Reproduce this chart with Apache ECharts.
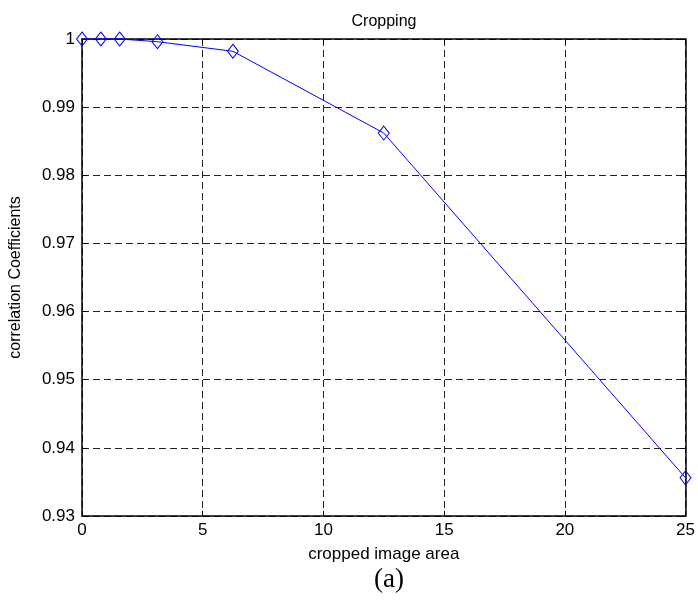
<!DOCTYPE html>
<html>
<head>
<meta charset="utf-8">
<script src="https://cdn.jsdelivr.net/npm/echarts@6/dist/echarts.min.js"></script>
<style>
html,body{margin:0;padding:0;background:#fff;}
#c{width:698px;height:600px;}
</style>
</head>
<body>
<div id="c"></div>
<script>
var croppedArea = [0, 0.78125, 1.5625, 3.125, 6.25, 12.5, 25];
var correlation = [1.0, 1.0, 1.0, 0.9996, 0.9982, 0.9862, 0.9356];
var xTicks = [0, 5, 10, 15, 20, 25];
var yTicks = [0.93, 0.94, 0.95, 0.96, 0.97, 0.98, 0.99, 1];
var titleText = 'Cropping';
var xLabel = 'cropped image area';
var yLabel = 'correlation Coefficients';
var caption = '(a)';

var FONT = '"Liberation Sans", Arial, sans-serif';
var chart = echarts.init(document.getElementById('c'), null, {renderer: 'canvas'});
var gridDash = {show: true, lineStyle: {color: '#222', width: 1, type: [7, 4]}};
var axisLine = {show: true, onZero: false, lineStyle: {color: '#000', width: 1.5}};
var tick = {show: true, inside: true, length: 5, lineStyle: {color: '#000', width: 1}};

chart.setOption({
  backgroundColor: '#fff',
  animation: false,
  title: [
    {text: titleText, left: 379, top: 9, textAlign: 'center',
     textStyle: {fontFamily: FONT, fontSize: 16, fontWeight: 'normal', color: '#000'}},
    {text: caption, left: 384, top: 561, textAlign: 'center',
     textStyle: {fontFamily: '"Liberation Serif", "Times New Roman", serif', fontSize: 27, fontWeight: 'normal', color: '#000'}}
  ],
  grid: {left: 81, right: 11, top: 39, bottom: 84, containLabel: false},
  xAxis: [
    {type: 'value', min: xTicks[0], max: xTicks[xTicks.length - 1], interval: 5,
     name: xLabel, nameLocation: 'middle', nameGap: 30,
     nameTextStyle: {fontFamily: FONT, fontSize: 17, color: '#000'},
     axisLine: axisLine, axisTick: tick, splitLine: gridDash,
     axisLabel: {fontFamily: FONT, fontSize: 17, color: '#000', margin: 6}},
    {type: 'value', position: 'top', min: xTicks[0], max: xTicks[xTicks.length - 1], interval: 5,
     axisLine: axisLine, axisTick: tick, splitLine: {show: false}, axisLabel: {show: false}}
  ],
  yAxis: [
    {type: 'value', min: yTicks[0], max: yTicks[yTicks.length - 1], interval: 0.01,
     name: yLabel, nameLocation: 'middle', nameGap: 58, nameRotate: 90,
     nameTextStyle: {fontFamily: FONT, fontSize: 16, color: '#000'},
     axisLine: axisLine, axisTick: tick, splitLine: gridDash,
     axisLabel: {fontFamily: FONT, fontSize: 17, color: '#000', margin: 7,
       formatter: function (v) { return String(parseFloat(v.toFixed(2))); }}},
    {type: 'value', position: 'right', min: yTicks[0], max: yTicks[yTicks.length - 1], interval: 0.01,
     axisLine: axisLine, axisTick: tick, splitLine: {show: false}, axisLabel: {show: false}}
  ],
  series: [{
    type: 'line',
    data: croppedArea.map(function (x, i) { return [x, correlation[i]]; }),
    clip: false,
    symbol: 'diamond',
    symbolSize: [11, 14],
    showSymbol: true,
    lineStyle: {color: '#0000ff', width: 1},
    itemStyle: {color: 'rgba(0,0,0,0)', borderColor: '#0000ff', borderWidth: 1},
    z: 5
  }]
});
</script>
</body>
</html>
